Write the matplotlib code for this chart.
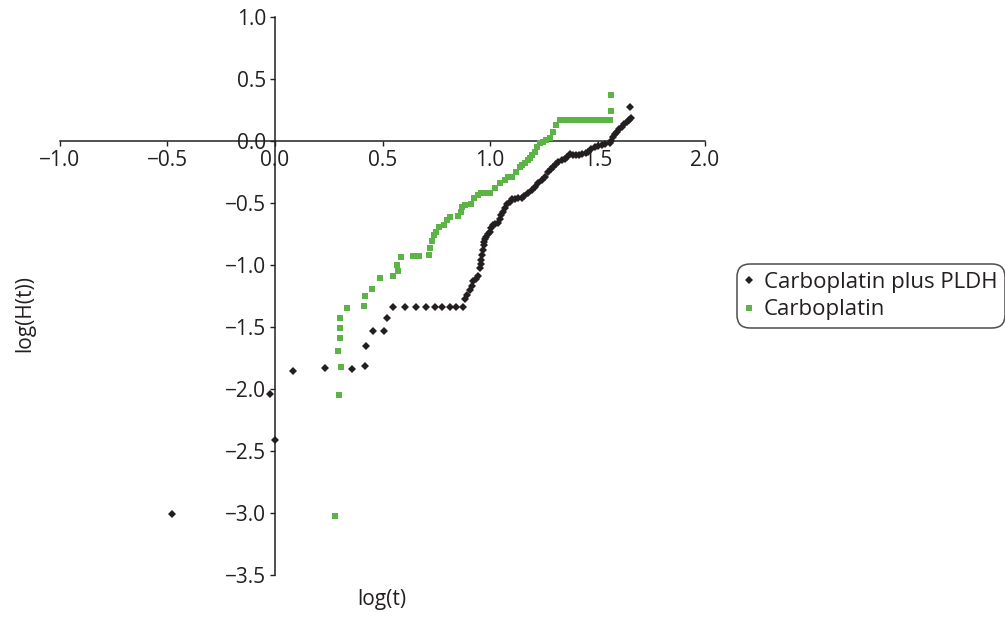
import matplotlib
matplotlib.use("Agg")
import matplotlib.pyplot as plt

plt.rcParams['font.family'] = ['Open Sans', 'DejaVu Sans']

# log(t) / log(H(t)) pairs for each arm
pldh_logt = [-0.477, -0.024, 0.000, 0.083, 0.232, 0.357, 0.418, 0.424, 0.458, 0.509,
             0.523, 0.548, 0.606, 0.655, 0.700, 0.742, 0.779, 0.813, 0.844, 0.875,
             0.883, 0.893, 0.906, 0.914, 0.922, 0.935, 0.945, 0.953, 0.957, 0.960,
             0.964, 0.968, 0.970, 0.971, 0.977, 0.983, 0.990, 0.999, 1.006, 1.012,
             1.025, 1.038, 1.045, 1.053, 1.061, 1.069, 1.080, 1.092, 1.100, 1.115,
             1.130, 1.147, 1.160, 1.175, 1.193, 1.208, 1.224, 1.240, 1.255, 1.270,
             1.283, 1.294, 1.305, 1.317, 1.333, 1.348, 1.360, 1.371, 1.385, 1.400,
             1.415, 1.430, 1.445, 1.457, 1.470, 1.487, 1.500, 1.519, 1.535, 1.557,
             1.565, 1.573, 1.580, 1.589, 1.600, 1.612, 1.625, 1.635, 1.645, 1.655,
             1.652]
pldh_logh = [-3.010, -2.040, -2.410, -1.850, -1.830, -1.840, -1.810, -1.650, -1.530, -1.530,
             -1.430, -1.340, -1.340, -1.340, -1.340, -1.340, -1.340, -1.340, -1.340, -1.340,
             -1.270, -1.240, -1.200, -1.170, -1.130, -1.110, -1.090, -1.020, -0.990, -0.957,
             -0.920, -0.877, -0.840, -0.810, -0.790, -0.770, -0.750, -0.730, -0.700, -0.675,
             -0.668, -0.661, -0.630, -0.594, -0.567, -0.540, -0.510, -0.487, -0.470, -0.465,
             -0.462, -0.460, -0.440, -0.415, -0.393, -0.367, -0.339, -0.310, -0.285, -0.245,
             -0.225, -0.205, -0.180, -0.164, -0.151, -0.145, -0.125, -0.105, -0.110, -0.110,
             -0.110, -0.105, -0.095, -0.084, -0.065, -0.044, -0.035, -0.030, -0.025, -0.016,
             0.005, 0.037, 0.060, 0.077, 0.095, 0.118, 0.140, 0.158, 0.175, 0.190,
             0.280]

carbo_logt = [0.280, 0.298, 0.309, 0.291, 0.301, 0.301, 0.301, 0.336, 0.412, 0.419,
              0.453, 0.489, 0.550, 0.574, 0.568, 0.588, 0.640, 0.669, 0.717, 0.723,
              0.731, 0.740, 0.748, 0.762, 0.787, 0.798, 0.813, 0.849, 0.867, 0.872,
              0.883, 0.911, 0.926, 0.945, 0.960, 0.976, 0.999, 1.022, 1.046, 1.069,
              1.085, 1.100, 1.123, 1.139, 1.150, 1.162, 1.175, 1.185, 1.197, 1.208,
              1.220, 1.232, 1.247, 1.262, 1.278, 1.294, 1.309, 1.325, 1.340, 1.360,
              1.380, 1.400, 1.420, 1.440, 1.460, 1.480, 1.500, 1.520, 1.540, 1.560,
              1.565, 1.565]
carbo_logh = [-3.020, -2.050, -1.820, -1.690, -1.584, -1.508, -1.427, -1.344, -1.331, -1.245,
              -1.194, -1.102, -1.089, -1.046, -1.000, -0.935, -0.930, -0.930, -0.917, -0.863,
              -0.804, -0.756, -0.729, -0.694, -0.675, -0.635, -0.608, -0.600, -0.568, -0.527,
              -0.514, -0.508, -0.460, -0.433, -0.420, -0.420, -0.420, -0.380, -0.339, -0.312,
              -0.290, -0.285, -0.245, -0.205, -0.190, -0.177, -0.155, -0.137, -0.110, -0.084,
              -0.050, -0.016, -0.003, 0.010, 0.024, 0.077, 0.130, 0.172, 0.172, 0.172,
              0.172, 0.172, 0.172, 0.172, 0.172, 0.172, 0.172, 0.172, 0.172, 0.172,
              0.247, 0.375]

x_ticks = [-1.0, -0.5, 0.0, 0.5, 1.0, 1.5, 2.0]
y_ticks = [-3.5, -3.0, -2.5, -2.0, -1.5, -1.0, -0.5, 0.0, 0.5, 1.0]

ink = '#231f20'
green = '#5db446'

fig = plt.figure(figsize=(10.05, 6.17), dpi=100)
ax = fig.add_axes([0.0597, 0.068, 0.6418, 0.904])

ax.plot(pldh_logt, pldh_logh, linestyle='none', marker='D', markersize=3.6,
        color=ink, markeredgewidth=0, label='Carboplatin plus PLDH', zorder=3)
ax.plot(carbo_logt, carbo_logh, linestyle='none', marker='s', markersize=4.6,
        color=green, markeredgewidth=0, label='Carboplatin', zorder=3)

ax.set_xlim(-1.0, 2.0)
ax.set_ylim(-3.5, 1.0)
ax.set_xticks(x_ticks)
ax.set_yticks(y_ticks)
ax.set_xticklabels([f'{v:.1f}'.replace('-', '\u2212') for v in x_ticks])
ax.set_yticklabels([f'{v:.1f}'.replace('-', '\u2212') for v in y_ticks])

for side in ('top', 'right'):
    ax.spines[side].set_visible(False)
ax.spines['left'].set_position(('data', 0.0))
ax.spines['bottom'].set_position(('data', 0.0))
for side in ('left', 'bottom'):
    ax.spines[side].set_color(ink)
    ax.spines[side].set_linewidth(1.1)

ax.tick_params(axis='both', direction='out', length=3.5, width=1.0, color=ink,
               labelsize=15, labelcolor=ink)
ax.tick_params(axis='x', pad=3)
ax.tick_params(axis='y', pad=3)

fig.text(382 / 1005, 1 - 600 / 617, 'log(t)', ha='center', va='center',
         fontsize=15, color=ink)
fig.text(25 / 1005, 1 - 313 / 617, 'log(H(t))', ha='center', va='center',
         rotation=90, fontsize=15, color=ink)

leg = fig.legend(loc='center left', bbox_to_anchor=(737 / 1005, 1 - 296 / 617),
                 fontsize=16, frameon=True, fancybox=True, handlelength=0.4,
                 handletextpad=0.45, borderpad=0.35, labelspacing=0.3,
                 borderaxespad=0, markerscale=1.0)
frame = leg.get_frame()
frame.set_edgecolor(ink)
frame.set_linewidth(1.1)
frame.set_boxstyle('round,pad=0,rounding_size=0.6')
for t in leg.get_texts():
    t.set_color(ink)

fig.savefig('out.png', dpi=100)
